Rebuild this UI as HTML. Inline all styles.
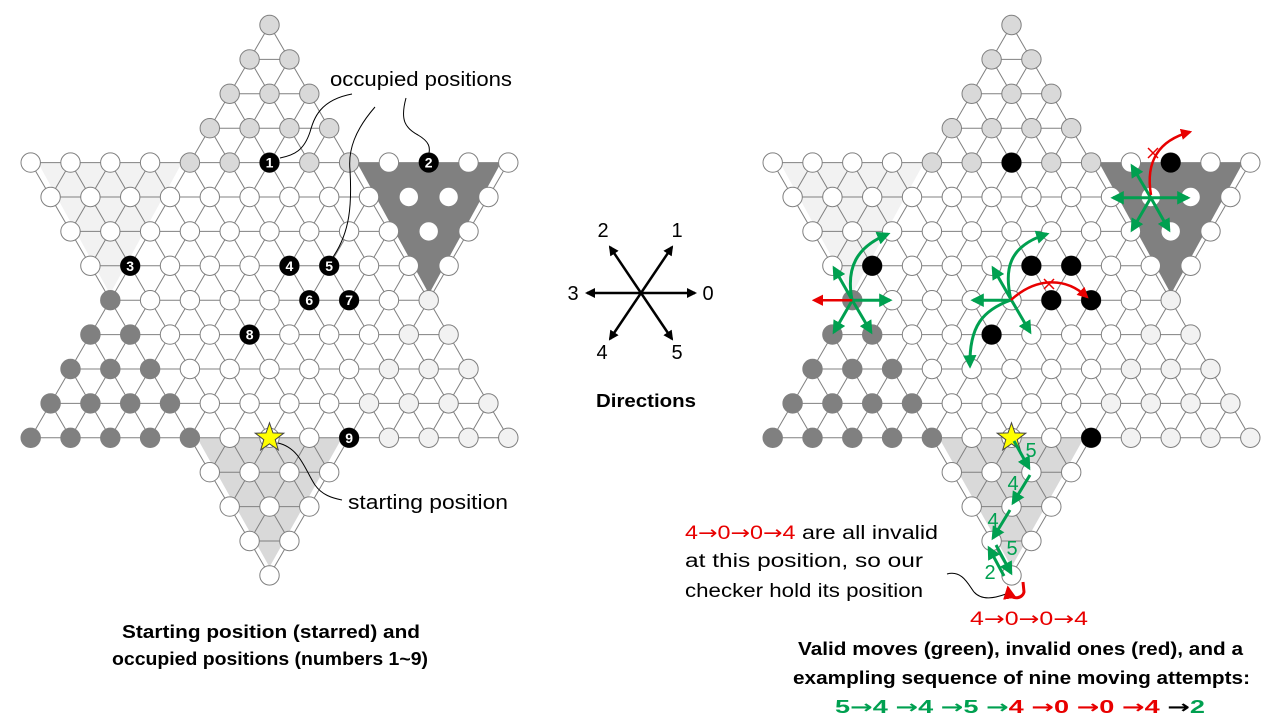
<!DOCTYPE html>
<html><head><meta charset="utf-8"><style>
html,body{margin:0;padding:0;background:#fff;}
svg{display:block;font-family:"Liberation Sans",sans-serif;}
.a{font-family:"DejaVu Sans",sans-serif;}
</style></head><body>
<svg id="s" width="1280" height="720" viewBox="0 0 1280 720" xmlns="http://www.w3.org/2000/svg">
<defs>
<marker id="ag" viewBox="0 0 10 10" refX="8" refY="5" markerWidth="4.5" markerHeight="4.5" orient="auto"><path d="M0,0 L10,5 L0,10 z" fill="#00a050"/></marker>
<marker id="ar" viewBox="0 0 10 10" refX="8" refY="5" markerWidth="4.5" markerHeight="4.5" orient="auto"><path d="M0,0 L10,5 L0,10 z" fill="#e80000"/></marker>
<marker id="ak" viewBox="0 0 10 10" refX="8" refY="5" markerWidth="4" markerHeight="4" orient="auto"><path d="M0,0 L10,5 L0,10 z" fill="#000"/></marker>
</defs>
<g id="base"></g>

<g fill="#000">
<circle cx="269.5" cy="162.6" r="10"/><circle cx="428.7" cy="162.6" r="10"/>
<circle cx="130.2" cy="265.8" r="10"/><circle cx="289.4" cy="265.8" r="10"/><circle cx="329.2" cy="265.8" r="10"/>
<circle cx="309.3" cy="300.2" r="10"/><circle cx="349.1" cy="300.2" r="10"/>
<circle cx="249.6" cy="334.6" r="10"/><circle cx="349.1" cy="437.8" r="10"/>
</g>
<g fill="#fff" font-size="14" font-weight="bold" text-anchor="middle">
<text x="269.5" y="167.6">1</text><text x="428.7" y="167.6">2</text>
<text x="130.2" y="270.8">3</text><text x="289.4" y="270.8">4</text><text x="329.2" y="270.8">5</text>
<text x="309.3" y="305.2">6</text><text x="349.1" y="305.2">7</text>
<text x="249.6" y="339.6">8</text><text x="349.1" y="442.8">9</text>
</g>
<g fill="#000">
<circle cx="1011.5" cy="162.6" r="10"/><circle cx="1170.7" cy="162.6" r="10"/>
<circle cx="872.2" cy="265.8" r="10"/><circle cx="1031.4" cy="265.8" r="10"/><circle cx="1071.2" cy="265.8" r="10"/>
<circle cx="1051.3" cy="300.2" r="10"/><circle cx="1091.1" cy="300.2" r="10"/>
<circle cx="991.6" cy="334.6" r="10"/><circle cx="1091.1" cy="437.8" r="10"/>
</g>

<polygon id="st1" fill="#ffff00" stroke="#444" stroke-width="1"/>
<polygon id="st2" fill="#ffff00" stroke="#444" stroke-width="1"/>

<g fill="none" stroke="#000" stroke-width="1">
<path d="M352,94 C320,100 314,118 310,132 C304,150 295,155 280,158"/>
<path d="M375,107 C355,130 348,150 350,170 C352,205 350,232 333,257"/>
<path d="M406,98 C400,120 405,128 418,135 C430,142 430,148 429,153"/>
<path d="M278,443 C300,448 305,470 315,485 C322,495 332,498 342,500"/>
<path d="M947,574 C962,570 968,584 974,592 C982,601 995,598 1006,594"/>
</g>
<text x="330" y="86" font-size="20" textLength="182" lengthAdjust="spacingAndGlyphs">occupied positions</text>
<text x="348" y="509" font-size="20" textLength="160" lengthAdjust="spacingAndGlyphs">starting position</text>
<g font-size="18" font-weight="bold" text-anchor="middle">
<text x="271" y="638" textLength="298" lengthAdjust="spacingAndGlyphs">Starting position (starred) and</text>
<text x="270" y="665" textLength="316" lengthAdjust="spacingAndGlyphs">occupied positions (numbers 1~9)</text>
<text x="646" y="407" textLength="100" lengthAdjust="spacingAndGlyphs">Directions</text>
</g>

<g stroke="#000" stroke-width="2.5" marker-end="url(#ak)">
<line x1="641" y1="293" x2="672" y2="247"/><line x1="641" y1="293" x2="610" y2="247"/>
<line x1="641" y1="293" x2="695" y2="293"/><line x1="641" y1="293" x2="587" y2="293"/>
<line x1="641" y1="293" x2="610" y2="339"/><line x1="641" y1="293" x2="672" y2="339"/>
</g>
<g font-size="20" text-anchor="middle">
<text x="677" y="237">1</text><text x="603" y="237">2</text><text x="708" y="300">0</text>
<text x="573" y="300">3</text><text x="602" y="359">4</text><text x="677" y="359">5</text>
</g>

<g stroke="#00a050" stroke-width="3" fill="none" marker-end="url(#ag)">
<line x1="852.3" y1="300.2" x2="890" y2="300.2"/>
<line x1="852.3" y1="300.2" x2="834" y2="268"/>
<line x1="852.3" y1="300.2" x2="834" y2="332"/>
<line x1="852.3" y1="300.2" x2="871" y2="332"/>
<path d="M852,300 C846,268 856,247 888,234"/>
<line x1="1011.5" y1="300.2" x2="973" y2="300.2"/>
<line x1="1011.5" y1="300.2" x2="993" y2="268"/>
<line x1="1011.5" y1="300.2" x2="1030" y2="332"/>
<path d="M1011,300 C1004,270 1008,246 1047,234"/>
<path d="M1011,300 C983,310 969,326 970,366"/>
<line x1="1150.8" y1="197.8" x2="1188" y2="197.8"/>
<line x1="1150.8" y1="197.8" x2="1113" y2="197.8"/>
<line x1="1150.8" y1="197.8" x2="1132" y2="166"/>
<line x1="1150.8" y1="197.8" x2="1132" y2="230"/>
<line x1="1150.8" y1="197.8" x2="1169" y2="230"/>
<line x1="1014" y1="441" x2="1029" y2="468"/>
<line x1="1030" y1="475" x2="1013" y2="503"/>
<line x1="1010" y1="510" x2="993" y2="538"/>
<line x1="996" y1="545" x2="1011" y2="573"/>
<line x1="1004" y1="576" x2="989" y2="548"/>
</g>
<g stroke="#e80000" stroke-width="2.5" fill="none" marker-end="url(#ar)">
<line x1="852.3" y1="300.2" x2="814" y2="300.2"/>
<path d="M1011,300 C1035,278 1065,276 1087,297"/>
<path d="M1151,195 C1145,160 1160,140 1190,132"/>
</g>
<path d="M1023,582 L1024,592 A8,7 0 0 1 1009,594 L1008,588" stroke="#e80000" stroke-width="3" fill="none" marker-end="url(#ar)"/>
<g stroke="#e80000" stroke-width="1.5">
<line x1="1044" y1="279" x2="1054" y2="289"/><line x1="1054" y1="279" x2="1044" y2="289"/>
<line x1="1148" y1="148" x2="1158" y2="158"/><line x1="1158" y1="148" x2="1148" y2="158"/>
</g>
<g fill="#00a050" font-size="20" text-anchor="middle">
<text x="1031" y="457">5</text><text x="1013" y="490">4</text><text x="993" y="527">4</text>
<text x="1012" y="555">5</text><text x="990" y="579">2</text>
</g>

<g font-size="19">
<text x="685" y="539" textLength="253" lengthAdjust="spacingAndGlyphs"><tspan fill="#e80000">4<tspan class="a">→</tspan>0<tspan class="a">→</tspan>0<tspan class="a">→</tspan>4</tspan> are all invalid</text>
<text x="685" y="567" textLength="238" lengthAdjust="spacingAndGlyphs">at this position, so our</text>
<text x="685" y="597" textLength="238" lengthAdjust="spacingAndGlyphs">checker hold its position</text>
<text x="970" y="625" fill="#e80000" textLength="118" lengthAdjust="spacingAndGlyphs">4<tspan class="a">→</tspan>0<tspan class="a">→</tspan>0<tspan class="a">→</tspan>4</text>
</g>
<g font-size="18" font-weight="bold">
<text x="798" y="655" textLength="445" lengthAdjust="spacingAndGlyphs">Valid moves (green), invalid ones (red), and a</text>
<text x="793" y="684" textLength="457" lengthAdjust="spacingAndGlyphs">exampling sequence of nine moving attempts:</text>
<text x="835" y="713" textLength="370" lengthAdjust="spacingAndGlyphs"><tspan fill="#00a050">5<tspan class="a">→</tspan>4 <tspan class="a">→</tspan>4 <tspan class="a">→</tspan>5 <tspan class="a">→</tspan></tspan><tspan fill="#e80000">4 <tspan class="a">→</tspan>0 <tspan class="a">→</tspan>0 <tspan class="a">→</tspan>4 </tspan><tspan fill="#000" class="a">→</tspan><tspan fill="#00a050">2</tspan></text>
</g>
</svg>
<script>
(function(){
var NS="http://www.w3.org/2000/svg",base=document.getElementById("base");
function el(t,a){var e=document.createElementNS(NS,t);for(var k in a)e.setAttribute(k,a[k]);base.appendChild(e);return e;}
var counts=[1,2,3,4,13,12,11,10,9,10,11,12,13,4,3,2,1],S=19.9;
function Y(r){return 25+34.4*r;}
function star(cx,cy,id){var p=[];for(var i=0;i<10;i++){var a=-Math.PI/2+i*Math.PI/5,rr=i%2?6:15;p.push((cx+rr*Math.cos(a)).toFixed(1)+","+(cy+rr*Math.sin(a)).toFixed(1));}document.getElementById(id).setAttribute("points",p.join(" "));}
function board(cx){
 el("polygon",{points:(cx-231.5)+",162.6 "+(cx-87.5)+",162.6 "+(cx-159.5)+",294",fill:"#f2f2f2"});
 el("polygon",{points:(cx+87.5)+",162.6 "+(cx+231.5)+",162.6 "+(cx+159.5)+",294",fill:"#808080"});
 el("polygon",{points:(cx-72.5)+",437.8 "+(cx+72.5)+",437.8 "+(cx)+",567",fill:"#d9d9d9"});
 var has={};
 for(var r=0;r<17;r++){var n=counts[r];for(var i=0;i<n;i++){has[r+","+(2*i-(n-1))]=1;}}
 for(var r=0;r<17;r++){var n=counts[r];for(var i=0;i<n;i++){var h=2*i-(n-1),x=cx+h*S,y=Y(r);
  [[r,h+2],[r+1,h-1],[r+1,h+1]].forEach(function(q){if(has[q[0]+","+q[1]])el("line",{x1:x,y1:y,x2:cx+q[1]*S,y2:Y(q[0]),stroke:"#808080","stroke-width":1});});}}
 for(var r=0;r<17;r++){var n=counts[r];for(var i=0;i<n;i++){var h=2*i-(n-1),c="#fff";
  if(r<=4&&Math.abs(h)<=r)c="#d9d9d9";
  else if(r>=8&&r<=12&&h<=-(16-r))c="#808080";
  else if(r>=8&&r<=12&&h>=16-r)c="#f2f2f2";
  el("circle",{cx:cx+h*S,cy:Y(r),r:9.7,fill:c,stroke:"#808080","stroke-width":1});}}
}
board(269.5);board(1011.5);
star(269.5,437.8,"st1");star(1011.5,437.8,"st2");
})();
</script>
</body></html>
